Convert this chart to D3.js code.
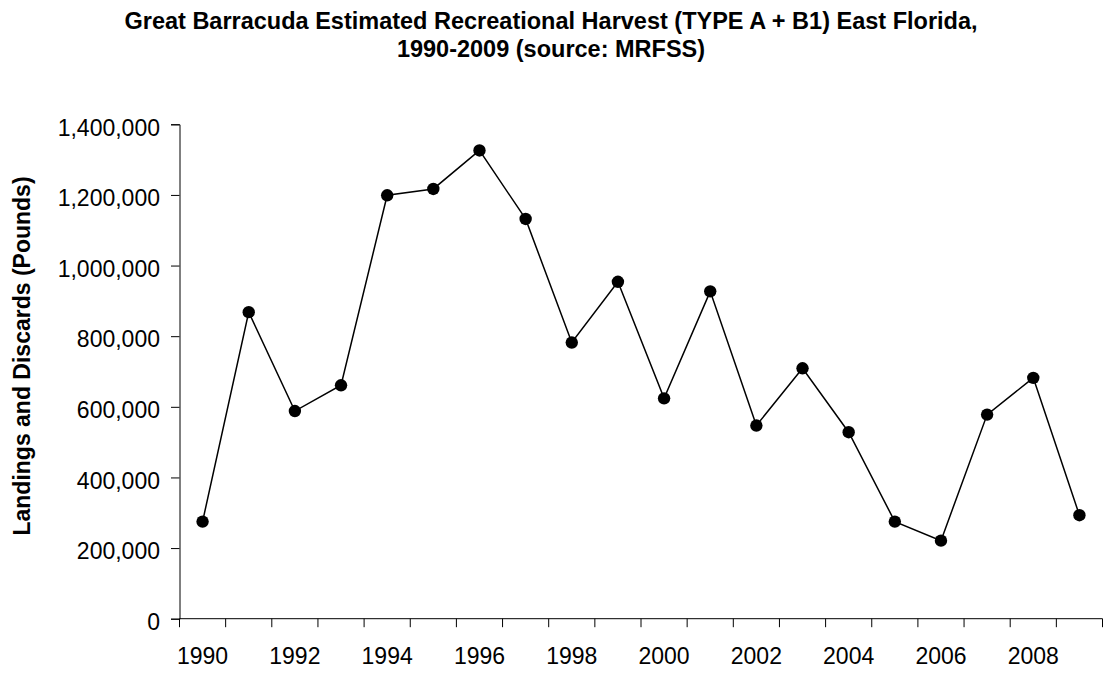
<!DOCTYPE html>
<html>
<head>
<meta charset="utf-8">
<script src="https://cdn.jsdelivr.net/npm/d3@7"></script>
<style>
  body { margin: 0; background: #fff; }
  svg { display: block; font-family: "Liberation Sans", Arial, sans-serif; }
</style>
</head>
<body>
<svg id="chart" width="1103" height="677"></svg>
<script>
// data
const years = d3.range(1990, 2010);
const harvest = [275000, 868000, 588000, 661000, 1199000, 1217000, 1326000, 1132000, 782000, 954000,
                 624000, 927000, 547000, 709000, 528000, 275000, 221000, 578000, 682000, 293000];
const yTicks = [0, 200000, 400000, 600000, 800000, 1000000, 1200000, 1400000];
const titleLines = ['Great Barracuda Estimated Recreational Harvest (TYPE A + B1) East Florida,',
                    '1990-2009 (source: MRFSS)'];
const yLabel = 'Landings and Discards (Pounds)';

const svg = d3.select('#chart');
const margin = {left: 179.5, right: 1102.5, top: 124.3, bottom: 618.7};

const x = d3.scaleBand().domain(years).range([margin.left, margin.right]);
const y = d3.scaleLinear().domain([0, 1400000]).range([margin.bottom, margin.top]);

// title
svg.append('g').selectAll('text')
  .data(titleLines)
  .join('text')
    .attr('x', 551)
    .attr('y', (d, i) => 29 + i * 28)
    .attr('text-anchor', 'middle')
    .style('font-weight', 'bold')
    .style('font-size', '23.5px')
    .text(d => d);

// y axis
const yAxis = svg.append('g')
  .attr('transform', `translate(${margin.left},0)`)
  .call(d3.axisLeft(y).tickValues(yTicks).tickSize(8.5).tickPadding(11).tickFormat(d3.format(',')));
yAxis.selectAll('text').style('font-size', '23px').attr('fill', '#000').attr('dy', '0.47em');
yAxis.selectAll('line, path').attr('stroke', '#000');

// x axis: ticks on band boundaries, labels every other year
const xAxis = svg.append('g').attr('transform', `translate(0,${margin.bottom})`);
xAxis.append('line')
  .attr('x1', margin.left).attr('x2', margin.right)
  .attr('stroke', '#000');
xAxis.selectAll('line.tick')
  .data(years.concat([2010]))
  .join('line')
    .attr('class', 'tick')
    .attr('x1', d => d === 2010 ? margin.right : x(d))
    .attr('x2', d => d === 2010 ? margin.right : x(d))
    .attr('y1', 0).attr('y2', 8.5)
    .attr('stroke', '#000');
xAxis.selectAll('text')
  .data(years.filter(d => d % 2 === 0))
  .join('text')
    .attr('x', d => x(d) + x.bandwidth() / 2)
    .attr('y', 45)
    .attr('text-anchor', 'middle')
    .style('font-size', '23px')
    .text(d => d);

// y axis title
svg.append('text')
  .attr('transform', 'translate(30,356) rotate(-90)')
  .attr('text-anchor', 'middle')
  .style('font-weight', 'bold')
  .style('font-size', '23px')
  .text(yLabel);

// series
const cx = (d, i) => x(years[i]) + x.bandwidth() / 2;
svg.append('path')
  .datum(harvest)
  .attr('fill', 'none')
  .attr('stroke', '#000')
  .attr('stroke-width', 1.5)
  .attr('d', d3.line().x(cx).y(d => y(d)));

svg.append('g').selectAll('circle')
  .data(harvest)
  .join('circle')
    .attr('cx', cx)
    .attr('cy', d => y(d))
    .attr('r', 6.2)
    .attr('fill', '#000');
</script>
</body>
</html>
